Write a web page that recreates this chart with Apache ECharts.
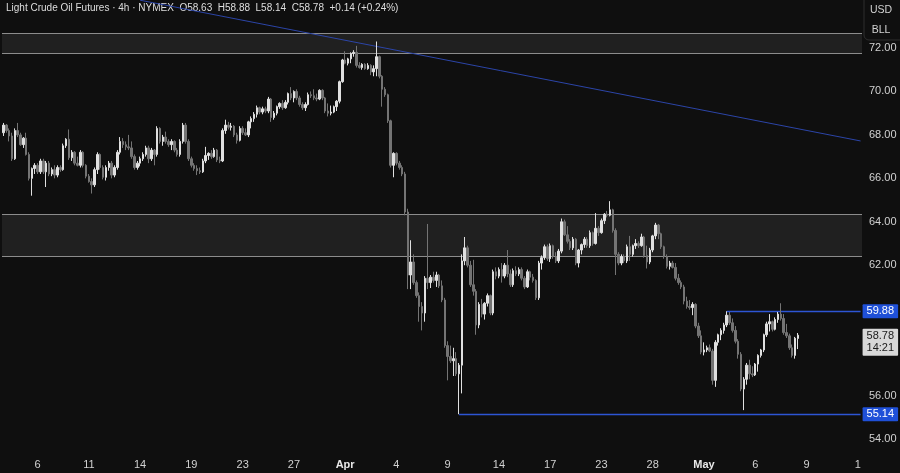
<!DOCTYPE html>
<html>
<head>
<meta charset="utf-8">
<title>Light Crude Oil Futures · 4h</title>
<script src="https://cdn.jsdelivr.net/npm/echarts@6/dist/echarts.min.js"></script>
<style>
  html, body { margin: 0; padding: 0; background: #0f0f0f; }
  #chart { width: 900px; height: 473px; }
</style>
</head>
<body>
<div id="chart"></div>
<script>
// ---- trading calendar (4h bars, 6 per session) ----
const tradingDays = [
  'Mar 4','Mar 5','Mar 6','Mar 7','Mar 10','Mar 11','Mar 12','Mar 13','Mar 14','Mar 17',
  'Mar 18','Mar 19','Mar 20','Mar 21','Mar 24','Mar 25','Mar 26','Mar 27','Mar 28','Mar 31',
  'Apr 1','Apr 2','Apr 3','Apr 4','Apr 7','Apr 8','Apr 9','Apr 10','Apr 11','Apr 14',
  'Apr 15','Apr 16','Apr 17','Apr 21','Apr 22','Apr 23','Apr 24','Apr 25','Apr 28','Apr 29',
  'Apr 30','May 1','May 2','May 5','May 6','May 7','May 8','May 9','May 12','May 13','May 14'
];
const sessionHours = ['18:00','22:00','02:00','06:00','10:00','14:00'];
const visibleSlots = 302;

// time-axis captions: [session, caption]
const timeTicks = [
  ['Mar 6','6'],['Mar 11','11'],['Mar 14','14'],['Mar 19','19'],['Mar 24','23'],['Mar 27','27'],
  ['Apr 1','Apr'],['Apr 4','4'],['Apr 9','9'],['Apr 14','14'],['Apr 17','17'],['Apr 23','23'],
  ['Apr 28','28'],['May 1','May'],['May 6','6'],['May 9','9'],['May 14','1']
];
const monthCaptions = ['Apr','May'];

// price-axis captions (60.00 sits under the 59.88 tag)
const priceTicks = [54, 56, 58, 62, 64, 66, 68, 70, 72];

// ---- OHLC rows: [open, high, low, close] ----
const marchBars = [
  [68.10,68.55,67.95,68.45],[68.45,68.50,68.10,68.20],[68.20,68.30,67.70,67.95],[67.95,68.10,66.80,66.90],
  [66.90,68.30,66.85,68.20],[68.20,68.55,67.90,68.00],[68.00,68.10,67.50,67.55],[67.55,67.90,67.40,67.85],
  [67.85,68.10,67.05,67.10],[67.10,67.20,65.90,66.00],[66.00,66.50,65.20,66.45],[66.45,66.70,66.20,66.60],
  [66.60,66.70,66.20,66.30],[66.30,66.90,66.20,66.80],[66.80,66.90,66.20,66.30],[66.30,66.80,65.60,66.70],
  [66.70,66.80,66.10,66.20],[66.20,66.50,66.10,66.40],[66.40,66.60,66.00,66.15],[66.15,66.60,66.05,66.50],
  [66.50,66.60,66.30,66.40],[66.40,67.60,66.35,67.50],[67.50,67.85,67.40,67.80],[67.80,68.25,66.85,66.95],
  [66.95,67.30,66.80,67.20],[67.20,67.25,66.60,66.70],[66.70,67.00,66.55,66.60],[66.60,67.30,66.50,67.20],
  [67.20,67.25,66.50,66.60],[66.60,66.65,66.00,66.10],[66.10,66.20,65.80,65.85],[65.85,66.00,65.30,65.70],
  [65.70,66.50,65.60,66.40],[66.40,67.20,66.20,67.10],[67.10,67.15,66.40,66.50],[66.50,66.60,65.95,66.05],
  [66.05,66.60,65.90,66.50],[66.50,66.80,66.35,66.70],[66.70,66.80,66.00,66.15],[66.15,66.60,66.05,66.50],
  [66.50,67.30,66.40,67.20],[67.20,67.90,67.10,67.70],[67.70,67.85,67.40,67.55],[67.55,67.70,67.30,67.45],
  [67.45,68.00,67.30,67.40],[67.40,67.70,66.90,67.00],[67.00,67.10,66.40,66.50],[66.50,66.80,66.40,66.70],
  [66.70,67.00,66.55,66.90],[66.90,67.20,66.80,67.10],[67.10,67.50,67.00,67.40],[67.40,67.50,66.70,66.90],
  [66.90,67.40,66.80,67.30],[67.30,67.35,66.60,67.10],[67.10,68.40,67.00,68.30],[68.30,68.35,67.60,67.70],
  [67.70,68.00,67.50,67.90],[67.90,68.15,67.60,67.70],[67.70,67.80,67.45,67.55],[67.55,67.80,67.30,67.70],
  [67.70,67.75,67.20,67.30],[67.30,67.40,67.00,67.10],[67.10,67.80,67.00,67.70],[67.70,68.55,67.60,68.45],
  [68.45,68.55,67.60,67.70],[67.70,67.80,66.80,66.90],[66.90,67.00,66.50,66.60],[66.60,66.70,66.35,66.45],
  [66.45,66.60,66.15,66.35],[66.35,66.50,66.20,66.30],[66.30,66.90,66.25,66.80],[66.80,67.45,66.70,67.05],
  [67.05,67.20,66.85,67.15],[67.15,67.30,66.90,67.00],[67.00,67.40,66.95,67.30],[67.30,67.35,66.75,66.85],
  [66.85,67.00,66.70,66.80],[66.80,68.30,66.75,68.20],[68.20,68.70,68.05,68.45],[68.45,68.60,68.25,68.35],
  [68.35,68.55,68.20,68.40],[68.40,68.45,67.90,68.00],[68.00,68.10,67.60,67.75],[67.75,68.40,67.70,68.30],
  [68.30,68.40,68.00,68.10],[68.10,68.30,67.95,68.00],[68.00,68.65,67.90,68.60],[68.60,68.85,68.30,68.75],
  [68.75,69.05,68.60,68.95],[68.95,69.35,68.80,69.25],[69.25,69.30,68.95,69.05],[69.05,69.30,68.95,69.20],
  [69.20,69.30,69.00,69.10],[69.10,69.75,69.00,69.65],[69.65,69.70,68.60,68.80],[68.80,69.10,68.70,69.00],
  [69.00,69.35,68.90,69.30],[69.30,69.50,69.20,69.45],[69.45,69.60,69.15,69.25],[69.25,69.60,69.20,69.50],
  [69.50,69.95,69.40,69.90],[69.90,70.20,69.60,69.70],[69.70,70.05,69.50,70.00],[70.00,70.10,69.60,69.70],
  [69.70,69.80,69.30,69.40],[69.40,69.50,69.15,69.25],[69.25,69.50,69.10,69.40],[69.40,69.95,69.35,69.85],
  [69.85,70.00,69.70,69.80],[69.80,70.10,69.60,69.70],[69.70,69.90,69.55,69.65],[69.65,70.10,69.60,70.05],
  [70.05,70.10,69.60,69.70],[69.70,69.75,69.00,69.10],[69.10,69.45,68.85,69.00],[69.00,69.35,68.90,69.05],
  [69.05,69.35,69.00,69.30],[69.30,69.60,69.10,69.55],[69.55,70.50,69.45,70.45],[70.45,71.50,70.40,71.45]
];
const aprilBars = [
  [71.45,71.85,71.25,71.30],[71.30,71.55,71.20,71.50],[71.50,71.80,71.30,71.75],[71.75,71.90,71.60,71.80],
  [71.80,72.10,71.10,71.20],[71.20,71.35,71.05,71.10],[71.10,71.30,71.00,71.25],[71.25,71.30,71.00,71.05],
  [71.05,71.30,71.00,71.20],[71.20,71.25,70.75,70.90],[70.90,71.20,70.70,71.05],[71.05,72.30,70.70,71.60],
  [71.60,71.65,70.60,70.70],[70.70,70.75,69.30,70.10],[70.10,70.20,69.75,69.85],[69.85,69.90,68.55,68.65],
  [68.65,68.70,66.50,66.60],[66.60,67.20,66.05,67.15],[67.15,67.20,66.60,66.70],[66.70,66.80,66.40,66.50],
  [66.50,66.60,66.10,66.20],[66.20,66.30,64.30,64.45],[64.45,64.60,60.90,61.55],[61.55,63.15,60.90,62.15],
  [62.15,62.50,61.10,61.20],[61.20,61.30,60.50,60.60],[60.60,60.75,59.40,60.10],[60.10,60.30,59.00,59.80],
  [59.80,61.50,59.40,61.40],[61.40,63.90,60.90,61.20],[61.20,61.55,60.95,61.45],[61.45,61.70,61.20,61.30],
  [61.30,61.70,61.00,61.55],[61.55,61.60,60.95,61.05],[61.05,61.30,60.30,60.40],[60.40,60.50,58.20,58.30],
  [58.30,58.50,56.70,57.80],[57.80,58.30,57.50,57.60],[57.60,58.20,56.90,57.70],[57.70,58.00,56.90,57.00],
  [57.00,57.50,55.14,57.40],[57.40,62.50,56.10,62.20],[62.20,63.30,62.00,62.80],[62.80,62.90,61.90,62.00],
  [62.00,62.20,61.00,61.10],[61.10,62.25,60.60,60.80],[60.80,60.90,58.80,59.25],[59.25,60.30,59.10,60.20],
  [60.20,60.45,59.60,59.75],[59.75,60.30,59.50,60.25],[60.25,60.70,60.10,60.60],[60.60,60.65,59.70,59.80],
  [59.80,61.80,59.70,61.70],[61.70,61.90,61.35,61.50],[61.50,61.90,61.40,61.80],[61.80,62.10,61.20,61.50],
  [61.50,62.10,61.40,62.00],[62.00,62.70,61.45,61.60],[61.60,61.80,61.00,61.10],[61.10,61.85,61.00,61.75],
  [61.75,61.95,61.50,61.60],[61.60,61.90,61.50,61.80],[61.80,61.90,61.30,61.40],[61.40,61.50,60.90,61.00],
  [61.00,61.80,60.95,61.70],[61.70,61.75,61.30,61.45],[61.45,61.60,61.20,61.30],[61.30,61.35,60.40,60.50],
  [60.50,62.20,60.40,62.10],[62.10,62.45,61.80,62.35],[62.35,62.95,62.25,62.85],[62.85,62.95,62.20,62.30],
  [62.30,63.00,62.15,62.90],[62.90,62.95,62.30,62.40],[62.40,62.60,62.10,62.20],[62.20,62.75,62.10,62.65],
  [62.65,64.15,62.55,64.00],[64.00,64.10,63.35,63.40],[63.40,63.80,63.00,63.10],[63.10,63.20,62.70,62.80],
  [62.80,63.30,62.70,63.20],[63.20,63.25,62.00,62.10],[62.10,62.75,61.90,62.70],[62.70,63.00,62.50,62.95],
  [62.95,63.30,62.80,63.20],[63.20,63.30,62.80,62.90],[62.90,63.60,62.80,63.50],[63.50,63.55,62.90,63.00],
  [63.00,64.40,62.95,63.70],[63.70,63.80,63.35,63.50],[63.50,64.15,63.45,64.05],[64.05,64.40,63.90,64.35],
  [64.35,64.50,64.20,64.30],[64.30,64.95,64.25,64.55],[64.55,64.60,63.50,63.60],[63.60,63.70,61.55,62.50],
  [62.50,62.60,62.00,62.10],[62.10,62.50,62.00,62.40],[62.40,62.50,62.10,62.20],[62.20,62.95,62.10,62.85],
  [62.85,63.35,62.20,62.50],[62.50,62.95,62.40,62.90],[62.90,63.20,62.75,63.00],[63.00,63.10,62.80,62.90],
  [62.90,63.45,62.85,63.30],[63.30,63.35,62.35,62.45],[62.45,62.90,61.85,62.15],[62.15,62.80,62.05,62.70],
  [62.70,63.40,62.60,63.35],[63.35,63.95,63.20,63.85],[63.85,63.90,63.20,63.45],[63.45,63.50,62.75,62.85],
  [62.85,62.90,62.30,62.40],[62.40,62.50,61.85,61.95],[61.95,62.20,61.80,62.10],[62.10,62.20,61.85,61.90],
  [61.90,62.10,61.30,61.40],[61.40,61.60,61.10,61.20],[61.20,61.30,60.90,61.00],[61.00,61.10,60.20,60.35],
  [60.35,60.55,60.00,60.10],[60.10,60.40,59.95,60.05],[60.05,60.30,59.70,60.20],[60.20,60.25,59.10,59.20],
  [59.20,59.35,58.65,58.75],[58.75,59.00,57.90,58.00]
];
const mayBars = [
  [58.00,58.45,57.85,58.10],[58.10,58.30,58.00,58.20],[58.20,58.35,58.00,58.05],[58.05,58.15,56.50,56.70],
  [56.70,58.55,56.40,58.45],[58.45,58.85,58.30,58.80],[58.80,59.10,58.55,59.00],[59.00,59.35,58.85,59.25],
  [59.25,59.88,59.15,59.70],[59.70,59.85,59.25,59.35],[59.35,59.55,58.90,59.00],[59.00,59.20,58.40,58.50],
  [58.50,58.60,57.70,57.90],[57.90,58.00,56.20,56.30],[56.30,56.85,55.33,56.75],[56.75,57.50,56.50,57.40],
  [57.40,57.65,56.75,57.00],[57.00,57.35,56.85,56.95],[56.95,57.50,56.90,57.45],[57.45,57.90,57.10,57.85],
  [57.85,58.15,57.75,58.10],[58.10,58.85,58.00,58.80],[58.80,59.40,58.70,59.30],[59.30,59.75,58.95,59.40],
  [59.40,59.45,58.95,59.05],[59.05,59.60,59.00,59.50],[59.50,59.85,59.35,59.75],[59.75,60.25,59.45,59.55],
  [59.55,59.75,58.80,58.90],[58.90,59.30,58.65,58.75],[58.75,58.85,58.10,58.20],[58.20,58.35,57.75,57.85],
  [57.85,58.70,57.70,58.64],[58.63,58.88,58.14,58.78]
];

// ---- drawings ----
const supplyZones = [[71.77, 72.68], [62.41, 64.34]];
const trendAnchors = [[48, 74.20], [301, 67.72]];
const levelLines = [[160, 55.14], [254, 59.88]];
const barCountdown = '14:21';

// ---- build series data ----
const categories = [];
tradingDays.forEach(d => sessionHours.forEach(h => categories.push(d + ' ' + h)));
categories.length = visibleSlots;

const tickMap = {};
timeTicks.forEach(([day, caption]) => { tickMap[day + ' ' + sessionHours[0]] = caption; });

const allBars = marchBars.concat(aprilBars, mayBars);
const candleData = allBars.map(([o, h, l, c]) => [o, c, l, h]);

const last = allBars[allBars.length - 1];
const prevClose = allBars[allBars.length - 2][3];
const change = last[3] - prevClose;
const changePct = change / prevClose * 100;
const sign = v => (v >= 0 ? '+' : '') + v.toFixed(2);
const headline = 'Light Crude Oil Futures · 4h · NYMEX  O' + last[0].toFixed(2) +
  '  H' + last[1].toFixed(2) + '  L' + last[2].toFixed(2) + '  C' + last[3].toFixed(2) +
  '  ' + sign(change) + ' (' + sign(changePct) + '%)';

const lastIdx = allBars.length - 1;
const edgeIdx = visibleSlots - 1;
const FONT = '"Liberation Sans", Arial, sans-serif';
const TEXT = '#d2d2d2';
const LEVEL_BLUE = '#2d55d4';
const TAG_BLUE = '#1f50d8';

const markLines = [];
supplyZones.forEach(([lo, hi]) => {
  [lo, hi].forEach(v => markLines.push({ yAxis: v, lineStyle: { color: '#8c8c8c', width: 1, type: 'solid' } }));
});
markLines.push([
  { coord: trendAnchors[0], lineStyle: { color: '#2c45a8', width: 1, type: 'solid' } },
  { coord: trendAnchors[1], lineStyle: { color: '#2c45a8', width: 1, type: 'solid' } }
]);
levelLines.forEach(([startIdx, price]) => {
  const style = { color: LEVEL_BLUE, width: 1.4, type: 'solid', opacity: 1 };
  markLines.push([
    {
      coord: [startIdx, price],
      lineStyle: style,
      label: {
        show: true, position: 'end', distance: 2, formatter: price.toFixed(2),
        backgroundColor: TAG_BLUE, color: '#ffffff', padding: [2, 4, 1, 4],
        fontSize: 11, fontFamily: FONT, borderRadius: 1
      }
    },
    { coord: [edgeIdx, price], lineStyle: style }
  ]);
});
markLines.push([
  {
    coord: [lastIdx, last[3]],
    lineStyle: { color: 'rgba(0,0,0,0)', width: 1 },
    label: {
      show: true, position: 'end', distance: 2, offset: [0, 7],
      formatter: last[3].toFixed(2) + '\n' + barCountdown,
      backgroundColor: '#d8d8d8', color: '#1a1a1a', padding: [2, 4, 1, 4],
      fontSize: 11, lineHeight: 12, fontFamily: FONT, borderRadius: 1
    }
  },
  { coord: [edgeIdx, last[3]], lineStyle: { color: 'rgba(0,0,0,0)', width: 1 } }
]);

const chart = echarts.init(document.getElementById('chart'), null, { renderer: 'canvas' });
chart.setOption({
  animation: false,
  backgroundColor: '#0f0f0f',
  grid: { left: 2, right: 38, top: 0, bottom: 24, containLabel: false, outerBoundsMode: 'none' },
  xAxis: {
    type: 'category',
    data: categories,
    boundaryGap: true,
    axisLine: { show: false },
    axisTick: { show: false },
    splitLine: { show: false },
    axisLabel: {
      interval: (idx, val) => tickMap[val] !== undefined,
      formatter: val => {
        const cap = tickMap[val] || '';
        return monthCaptions.includes(cap) ? '{m|' + cap + '}' : cap;
      },
      color: TEXT, fontSize: 11, fontFamily: FONT, margin: 10,
      rich: { m: { color: '#e8e8e8', fontSize: 11, fontWeight: 'bold', fontFamily: FONT } }
    }
  },
  yAxis: {
    type: 'value',
    position: 'right',
    min: 53.54,
    max: 74.21,
    splitNumber: 10,
    scale: true,
    axisLine: { show: false },
    axisTick: { show: false },
    splitLine: { show: false },
    axisLabel: {
      showMinLabel: false, showMaxLabel: false,
      formatter: v => priceTicks.some(t => Math.abs(t - v) < 1e-6) ? v.toFixed(2) : '',
      color: TEXT, fontSize: 11, fontFamily: FONT, margin: 7, align: 'left'
    }
  },
  series: [{
    type: 'candlestick',
    z: 10,
    data: candleData,
    barWidth: 2,
    clip: false,
    itemStyle: {
      color: '#e0e0e0', color0: '#747474',
      borderColor: '#e0e0e0', borderColor0: '#747474', borderWidth: 1
    },
    markArea: {
      silent: true,
      itemStyle: { color: 'rgba(255,255,255,0.075)' },
      data: supplyZones.map(([lo, hi]) => [{ yAxis: lo }, { yAxis: hi }])
    },
    markLine: {
      silent: true,
      symbol: ['none', 'none'],
      label: { show: false },
      emphasis: { disabled: true },
      data: markLines
    }
  }],
  graphic: [
    {
      type: 'text', left: 6, top: 3,
      style: { text: headline, fill: '#dedede', font: '10px ' + FONT }
    },
    {
      type: 'rect', shape: { x: 864, y: -6, width: 42, height: 46, r: 5 },
      style: { fill: '#0f0f0f', stroke: '#2f2f2f', lineWidth: 1 }
    },
    {
      type: 'text', x: 881, y: 10,
      style: { text: 'USD', fill: TEXT, font: '10.5px ' + FONT, align: 'center', verticalAlign: 'middle' }
    },
    {
      type: 'text', x: 881, y: 30,
      style: { text: 'BLL', fill: TEXT, font: '10.5px ' + FONT, align: 'center', verticalAlign: 'middle' }
    }
  ]
});
</script>
</body>
</html>
